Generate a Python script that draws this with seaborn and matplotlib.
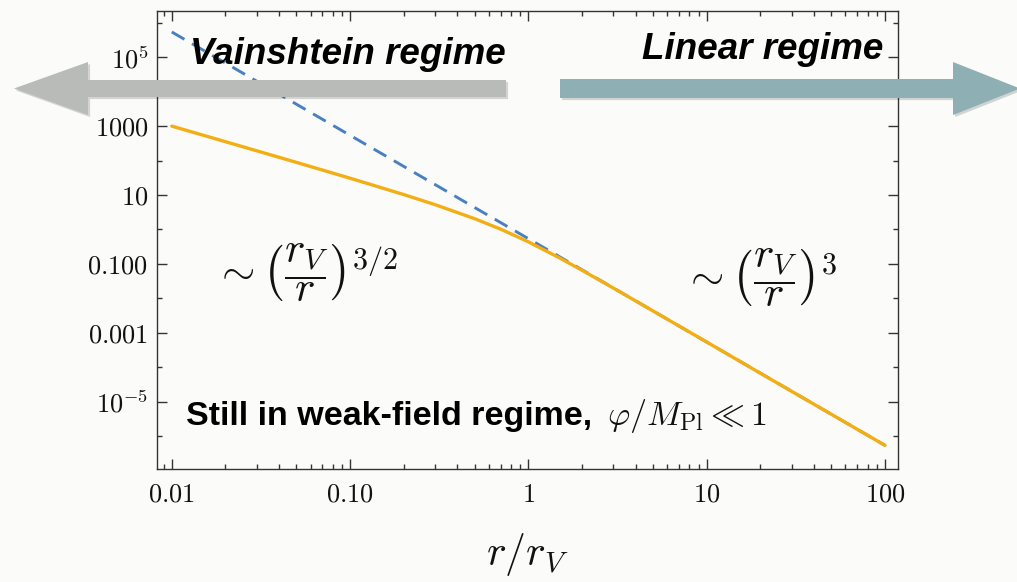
import matplotlib
matplotlib.use("Agg")
import matplotlib.pyplot as plt
import matplotlib.patheffects as pe
import numpy as np
import seaborn as sns
from matplotlib.patches import Polygon
from matplotlib.ticker import FixedFormatter, FixedLocator, LogLocator, NullFormatter

# values
r_full = [0.01, 0.02, 0.05, 0.1, 0.2, 0.3, 0.5, 0.7, 1, 1.5, 2, 3, 5, 10, 20, 50, 100]
phi_full = [999, 352.6, 88.5, 30.7, 10.29, 5.23, 2.05, 1.016, 0.437, 0.148,
            0.0652, 0.0198, 0.00431, 5.4e-4, 6.7e-5, 4.32e-6, 5.4e-7]
r_linear = [0.01, 100]
phi_linear = [5.4e5, 5.4e-7]

x_ticks = [0.01, 0.1, 1, 10, 100]
x_labels = ["$0.01$", "$0.10$", "$1$", "$10$", "$100$"]
y_ticks = [1e-5, 1e-3, 1e-1, 1e1, 1e3, 1e5]
y_labels = ["$10^{-5}$", "$0.001$", "$0.100$", "$10$", "$1000$", "$10^{5}$"]
y_minor = [1e-6, 1e-4, 1e-2, 1, 1e2, 1e4, 1e6]

sns.set_style("ticks")
plt.rcParams["mathtext.fontset"] = "cm"
plt.rcParams["font.family"] = ["Liberation Sans", "DejaVu Sans"]
plt.rcParams["text.color"] = "#111111"

bg = "#fbfcfa"
W, H = 1017, 582
fig = plt.figure(figsize=(W / 100, H / 100), dpi=100, facecolor=bg)
ax = fig.add_axes([156.7 / W, 1 - 469 / H, (898.3 - 156.7) / W, (469 - 11) / H])
ax.set_facecolor(bg)


def px(x, y):
    return (x / W, 1 - y / H)


sns.lineplot(x=r_linear, y=phi_linear, ax=ax, color="#4a80c0", lw=2.1,
             linestyle=(0, (5, 3)))
sns.lineplot(x=r_full, y=phi_full, ax=ax, color="#f3ae14", lw=2.4)

ax.set(xscale="log", yscale="log", xlim=(0.00823, 118.8),
       ylim=(10 ** -6.954, 10 ** 6.341))
ax.xaxis.set_major_locator(FixedLocator(x_ticks))
ax.xaxis.set_major_formatter(FixedFormatter(x_labels))
ax.xaxis.set_minor_locator(LogLocator(base=10, subs=np.arange(2, 10)))
ax.xaxis.set_minor_formatter(NullFormatter())
ax.yaxis.set_major_locator(FixedLocator(y_ticks))
ax.yaxis.set_major_formatter(FixedFormatter(y_labels))
ax.yaxis.set_minor_locator(FixedLocator(y_minor))
ax.yaxis.set_minor_formatter(NullFormatter())

ax.tick_params(which="both", direction="in", top=True, right=True,
               color="#333333", width=1, labelsize=19, labelcolor="#111111")
ax.tick_params(which="major", length=7)
ax.tick_params(which="minor", length=3.5)
ax.tick_params(axis="x", pad=10)
ax.tick_params(axis="y", pad=6)
for s in ax.spines.values():
    s.set_color("#333333")
    s.set_linewidth(1)

ax.set_xlabel("$r/r_V$", fontsize=30, labelpad=17, color="#111111")
ax.set_ylabel("")

shadow = [pe.SimplePatchShadow(offset=(1.5, -1.5), alpha=0.2), pe.Normal()]

# regime arrows
left_arrow = [(14, 88.5), (88, 62), (88, 80), (506, 80), (506, 97), (88, 97), (88, 115)]
right_arrow = [(1020, 88.5), (953, 62), (953, 79), (560, 79), (560, 98), (953, 98), (953, 115)]
fig.add_artist(Polygon([px(*p) for p in left_arrow], closed=True, transform=fig.transFigure,
                       facecolor="#b9bbb9", edgecolor="none", zorder=5, path_effects=shadow))
fig.add_artist(Polygon([px(*p) for p in right_arrow], closed=True, transform=fig.transFigure,
                       facecolor="#8eafb4", edgecolor="none", zorder=5, path_effects=shadow))

fig.text(*px(190, 64), "Vainshtein regime", fontsize=26.5, fontweight="bold",
         fontstyle="italic", ha="left", va="baseline", color="black", zorder=6)
fig.text(*px(883, 59), "Linear regime", fontsize=26.5, fontweight="bold",
         fontstyle="italic", ha="right", va="baseline", color="black", zorder=6)

fig.text(*px(186, 425), "Still in weak-field regime,", fontsize=24.5,
         fontweight="bold", ha="left", va="baseline", color="black", zorder=6)
fig.text(*px(607, 425), r"$\varphi/M_{\rm Pl} \ll 1$", fontsize=24.5,
         ha="left", va="baseline", color="#111111", zorder=6)

fig.text(*px(214, 273), r"$\sim \left(\dfrac{r_V}{r}\right)^{3/2}$", fontsize=31,
         ha="left", va="center", color="#111111", zorder=6)
fig.text(*px(683, 278), r"$\sim \left(\dfrac{r_V}{r}\right)^{3}$", fontsize=31,
         ha="left", va="center", color="#111111", zorder=6)

fig.savefig("out.png", dpi=100, facecolor=bg)
